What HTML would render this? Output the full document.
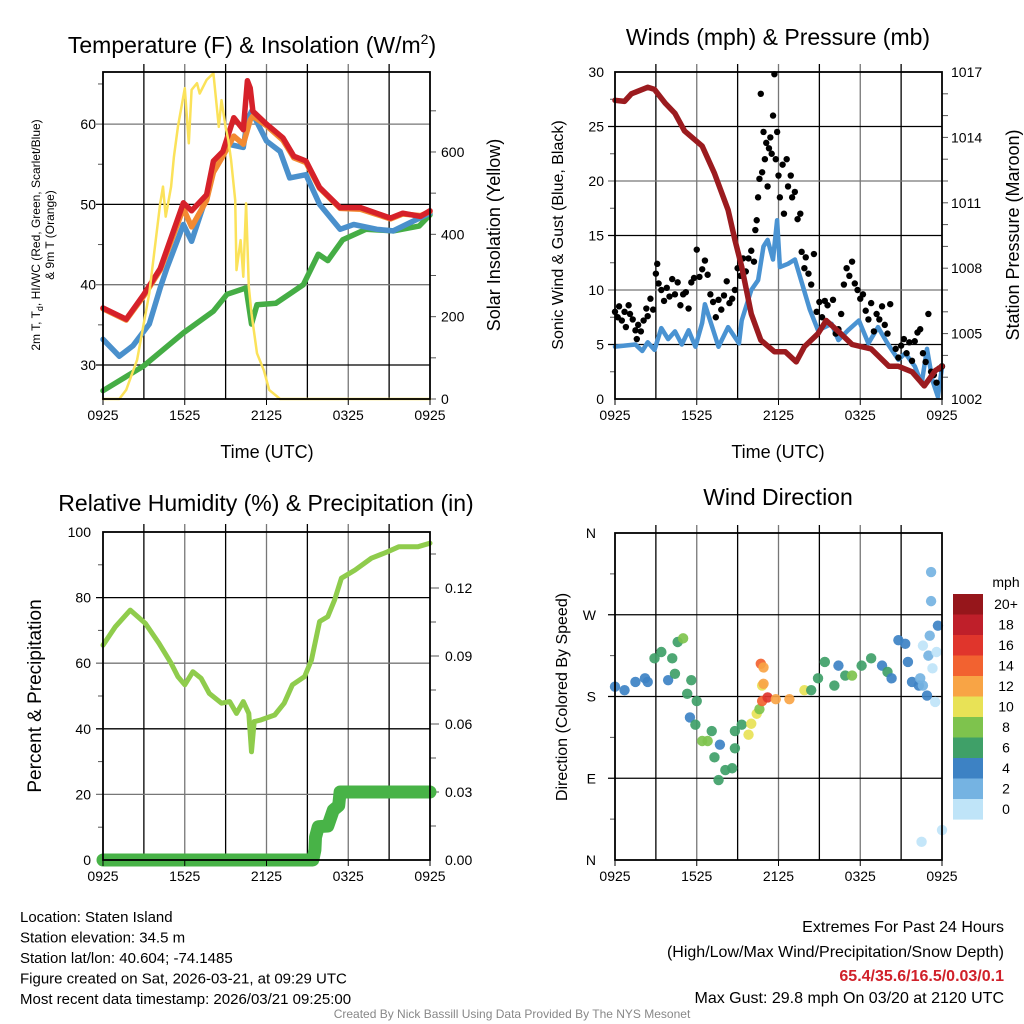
<!DOCTYPE html>
<html><head><meta charset="utf-8"><style>
body{margin:0;background:#fff;}
svg{display:block;font-family:"Liberation Sans",sans-serif;}
</style></head><body>
<svg id="c" width="1024" height="1024" viewBox="0 0 1024 1024">
<rect width="1024" height="1024" fill="#fff"/>
</svg>
<script>
// ---------- DATA ----------
const xTickLabels = ["0925","1525","2125","0325","0925"];
// Panel 1: temperature (hours since 0925)
const tempRedH = [0,1.7,3.0,4.2,5.9,6.5,7.6,8.1,8.8,9.6,10.3,10.6,10.8,11.0,12.0,13.2,14.0,14.9,15.9,17.4,18.9,21.1,22.0,23.3,24];
const tempRedV = [37.1,35.7,38.8,42,50.2,49.2,51.2,55.4,56.6,60.8,59.3,65.4,64.5,61.6,60,58.3,56,55.4,52.1,49.6,49.6,48.3,48.9,48.5,49.2];
const tempOrgH = [0,1.7,3.0,4.2,5.9,6.5,7.6,8.1,8.8,9.6,10.3,10.8,11.0,12.0,13.2,14.0,14.9,15.9,17.4,18.9,21.1,22.0,23.3,24];
const tempOrgV = [37,35.6,38.6,41.8,49.5,47.2,50.5,54,56,58.5,57.5,60.5,61,59.8,58,55.8,55.2,52,49.5,49.4,48.2,48.8,48.6,49.1];
const tempBluH = [0,1.2,2.2,3.4,4.2,4.7,5.9,6.5,7.4,8.2,9.2,10.3,10.6,10.9,12.0,13.0,13.7,14.9,15.9,17.4,18.4,20.1,21.3,22.5,24];
const tempBluV = [33.2,31.1,32.4,35.1,39.6,42.1,47.5,45.4,50,54.6,57.5,57.1,60.5,61.6,57.9,56.6,53.3,53.7,50,46.9,47.5,46.9,46.7,47.7,48.9];
const dewH = [0,3.0,5.9,8.1,9.1,10.5,10.9,11.3,12.7,14.7,15.8,16.5,17.6,19.3,21.3,23.2,24];
const dewV = [26.8,29.9,34,36.7,38.8,39.6,35.1,37.5,37.7,40,43.8,43,45.6,46.9,46.7,47.3,48.7];
const solarH = [0,1.2,1.7,2.5,3.4,4.2,4.4,4.6,5.0,5.2,5.5,6.0,6.3,6.5,6.9,7.1,7.6,8.1,8.5,8.7,9.0,9.2,9.4,9.7,9.8,10.1,10.3,10.5,10.7,10.9,11.3,11.8,12.2,13.0,13.7,24];
const solarV = [0,0,22,95,257,475,516,443,516,588,661,755,621,751,767,742,775,791,661,726,661,629,580,483,313,386,297,475,273,208,111,70,22,0,0,0];
// Panel 2: winds & pressure
const presH = [0,0.7,1.2,2.4,2.9,3.7,4.4,5.1,6.4,7.3,8.3,8.8,9.3,10.0,10.7,11.7,12.5,13.3,13.9,14.9,15.5,16.4,17.4,18.8,20.1,20.8,21.8,22.7,23.5,24];
const presV = [1015.7,1015.65,1016.0,1016.3,1016.2,1015.56,1015.1,1014.3,1013.6,1012.35,1010.67,1009.3,1008.07,1005.9,1004.7,1004.17,1004.17,1003.7,1004.4,1005.0,1005.6,1005.1,1004.5,1004.3,1003.5,1003.5,1003.25,1002.6,1003.3,1003.5];
const windH = [0,0.7,1.5,2.0,2.4,2.9,3.4,3.9,4.4,4.9,5.4,5.9,6.4,6.6,7.6,8.3,9.1,9.3,10.0,10.5,10.9,11.2,11.6,11.9,12.1,12.7,13.2,13.8,14.3,14.9,15.9,16.4,17.1,17.9,18.6,19.3,20.0,20.8,21.3,22.0,22.5,22.9,23.3,23.7,24];
const windV = [4.8,4.9,5.0,4.4,5.2,4.5,6.5,5.5,6.2,5.0,6.3,4.8,7.0,8.7,4.8,6.6,5.1,7.2,10,10.9,14,14.6,12.8,16.4,12.1,12.4,12.8,10.3,8.2,6.3,6.9,5.4,6.3,7.2,5.1,6.6,5.1,3.6,4.2,3.0,1.4,4.6,1.7,0.2,2.9];
const gustH = [0.0,0.2,0.3,0.5,0.7,0.8,1.0,1.1,1.3,1.5,1.6,1.7,1.9,2.1,2.3,2.4,2.6,2.8,3.0,3.1,3.2,3.4,3.6,3.8,4.0,4.2,4.4,4.6,4.8,5.0,5.2,5.4,5.6,5.8,6.0,6.2,6.4,6.6,6.8,7.0,7.2,7.4,7.6,7.8,8.0,8.2,8.4,8.6,8.8,9.0,9.2,9.4,9.6,9.8,10.0,10.2,10.3,10.4,10.5,10.6,10.7,10.8,10.9,11.0,11.1,11.2,11.3,11.4,11.5,11.6,11.7,11.8,11.9,12.0,12.1,12.3,12.4,12.6,12.7,12.9,13.0,13.2,13.4,13.6,13.7,13.9,14.0,14.2,14.4,14.6,14.8,15.0,15.2,15.4,15.6,16.0,16.2,16.4,16.6,16.8,17.0,17.2,17.4,17.6,17.8,18.0,18.2,18.4,18.6,18.8,19.0,19.2,19.4,19.6,19.8,20.0,20.2,20.6,20.8,21.0,21.2,21.4,21.6,21.8,22.0,22.2,22.4,22.6,22.8,23.0,23.2,23.4,23.6,23.8,24.0];
const gustV = [8,7.5,8.5,7.2,8.0,6.6,8.6,7.8,7.3,6.3,5.5,6.8,6.2,7.2,8.3,7.6,9.2,8.2,11.5,12.4,10.6,10.0,9.0,10.2,9.4,11.0,9.6,10.7,8.6,9.6,9.8,8.3,10.7,11.1,13.7,11.2,11.9,12.7,11.4,9.6,8.9,7.5,9.1,8.2,9.5,10.8,8.8,9.2,10.0,12.0,11.3,12.9,11.7,12.9,13.6,12.6,15.5,16.4,18.5,20.2,28.0,20.8,24.5,22.0,23.5,19.5,23.0,24.0,22.5,26.0,29.8,22.0,24.5,20.5,18.5,21.5,17.0,22.0,19.5,20.5,18.5,19.0,16.5,17.0,13.5,12.0,13.0,11.5,10.5,13.3,8.0,8.9,7.5,9.0,8.6,9.1,6.0,6.4,7.8,10.5,12.0,11.3,12.6,10.6,10.0,9.2,9.6,8.1,7.3,8.8,6.2,7.8,7.3,8.5,6.8,6.0,8.7,4.6,3.8,4.9,5.5,4.2,5.2,3.5,5.3,6.1,6.4,4.2,3.4,7.8,2.5,2.2,1.5,2.8,3.0];
// Panel 3: RH & precip
const rhH = [0,0.9,2.0,3.1,4.1,5.0,5.5,6.0,6.6,7.2,7.8,8.7,9.3,9.8,10.3,10.7,10.9,11.1,11.6,12.6,13.3,13.9,14.8,15.3,15.9,16.5,17.0,17.5,18.5,19.7,20.9,21.7,23.1,24];
const rhV = [65.5,71.1,76.2,72.2,66.1,60,55.9,53.4,57.4,55.4,50.8,47.8,48.3,44.7,48.3,44.7,33,42.2,42.7,44.2,47.8,53.4,55.9,61,72.7,74.2,79.3,85.9,88.4,92,94,95.5,95.5,96.6];
const precipH = [0,15.4,15.55,15.6,15.8,16.5,16.9,17.3,17.4,24];
const precipV = [0,0,0.0044,0.010,0.0147,0.015,0.022,0.024,0.030,0.030];
// Panel 4: wind direction
const dirH = [0,0.7,1.5,2.2,2.4,2.9,3.4,4.2,4.6,5.0,3.9,4.4,5.3,5.6,5.5,6.0,5.9,6.4,6.8,7.1,7.7,7.3,7.6,8.1,8.6,8.8,8.8,9.3,9.8,10.0,10.4,10.6,10.8,10.9,10.7,10.9,10.8,11.2,11.8,12.8,13.9,14.4,14.9,15.4,16.1,16.4,16.9,17.4,18.1,18.8,19.6,20.0,20.3,20.8,21.3,21.5,21.8,22.3,22.6,22.9,23.0,23.1,23.2,23.2,22.6,23.3,23.5,23.6,23.7,24.0,22.5,22.4];
const dirV = [190.8,187,196,200,196,222,229,222,240,244,198,205,183,198,157,175,149,131,131,142,127,113,88,99,101,123,142,149,138,150,161,166,192,194,216,212,175,179,177,177,187,187,200,218,192,214,203,203,214,222,214,207,200,242,238,218,196,192,192,181,225,247,317,285,236,211,174,229,258,33,20,200];
const dirS = [5,5,5,5,5,7,7,7,7,9,5,7,7,7,5,7,7,9,9,7,5,7,7,7,7,7,7,7,11,11,11,9,11,13,15,13,15,17,13,13,11,7,7,7,7,5,7,9,7,7,5,7,5,5,5,5,5,5,3,5,3,3,3,3,1,1,1,1,5,1,1,3];
const cbLabels = ["20+","18","16","14","12","10","8","6","4","2","0"];
const cbColors = ["#96161b","#bf1f2a","#e0352c","#f26230","#f8a445","#e8e256","#7ec34d","#3fa068","#3d82c4","#75b3e2","#bfe4f8"];

// ---------- RENDER ----------
const NS="http://www.w3.org/2000/svg", svg=document.getElementById('c');
function el(tag,attrs,parent){const e=document.createElementNS(NS,tag);for(const k in attrs)e.setAttribute(k,attrs[k]);(parent||svg).appendChild(e);return e;}
function txt(s,x,y,size,anchor,parent,extra){const t=el('text',Object.assign({x:x,y:y,'font-size':size,'text-anchor':anchor||'middle',fill:'#000'},extra||{}),parent);t.textContent=s;return t;}
function panel(name,x0,y0,x1,y1){
  const g=el('g',{});
  
  
  const P={g,x0,y0,x1,y1,xs:h=>x0+(x1-x0)*h/24};
  for(let i=1;i<8;i++){const x=P.xs(i*3);el('line',{x1:x,y1:y0-8,x2:x,y2:y1,stroke:i%2?'#000':'#777','stroke-width':1.3},g);}
  return P;
}
function frame(P){const g=P.g;el('rect',{x:P.x0,y:P.y0,width:P.x1-P.x0,height:P.y1-P.y0,fill:'none',stroke:'#000','stroke-width':1.8},g);
  xTickLabels.forEach((l,i)=>{const x=P.xs(i*6);el('line',{x1:x,y1:P.y1,x2:x,y2:P.y1+6,stroke:'#000'},g);const t=txt(l,x,P.y1+21,14,'middle',g);
  
  });}
function hgrid(P,ys,color){ys.forEach((y,i)=>el('line',{x1:P.x0-7,y1:y,x2:P.x1,y2:y,stroke:color?color(i):'#000','stroke-width':1.3},P.g));}
function rticks(P,ys,len){ys.forEach(y=>el('line',{x1:P.x1,y1:y,x2:P.x1+len,y2:y,stroke:'#555','stroke-width':1},P.g));}
function lticks(P,ys){ys.forEach(y=>el('line',{x1:P.x0-5,y1:y,x2:P.x0,y2:y,stroke:'#555','stroke-width':1},P.g));}
function path(P,H,V,ys,color,w,name){let d='';H.forEach((h,i)=>{d+=(i?'L':'M')+P.xs(h).toFixed(1)+','+ys(V[i]).toFixed(1);});
  const p=el('path',{d:d,fill:'none',stroke:color,'stroke-width':w,'stroke-linejoin':'round','stroke-linecap':'round'},P.g);
  
  return p;}

// Panel 1
{
const P=panel('temperature-panel',103,72,430,399);
const yT=v=>365-(v-30)*8.03, yS=v=>399-v*0.4117;
hgrid(P,[30,40,50,60].map(yT),i=>i%2?'#777':'#000');
lticks(P,[35,45,55,65].map(yT));
rticks(P,[0,100,200,300,400,500,600,700].map(yS),6);
[30,40,50,60].forEach(v=>{const t=txt(String(v),96,yT(v)+5,14,'end',P.g);});
[0,200,400,600].forEach(v=>{const t=txt(String(v),441,yS(v)+5,14,'start',P.g);});
path(P,dewH,dewV,yT,'#45ad45',5.5,'dewpoint-line');
path(P,tempBluH,tempBluV,yT,'#4a90cc',5.5,'wind-chill-line');
path(P,tempOrgH,tempOrgV,yT,'#f28a32',5.5,'9m-temp-line');
path(P,tempRedH,tempRedV,yT,'#d6212a',5.5,'2m-temp-line');
path(P,solarH,solarV,yS,'#fbe25a',2.5,'solar-insolation-line');
frame(P);
const t1=txt('Temperature (F) & Insolation (W/m',252,53,23,'middle');
const ts=el('tspan',{dy:-9,'font-size':14});ts.textContent='2';t1.appendChild(ts);const ts2=el('tspan',{dy:9});ts2.textContent=')';t1.appendChild(ts2);
const xa=txt('Time (UTC)',267,458,18);
const l1=txt('2m T, T',0,0,12,'middle',null,{transform:'translate(40,235) rotate(-90)'});
const sb=el('tspan',{dy:3,'font-size':9});sb.textContent='d';l1.appendChild(sb);const sb2=el('tspan',{dy:-3});sb2.textContent=', HI/WC (Red, Green, Scarlet/Blue)';l1.appendChild(sb2);
const l2=txt('& 9m T (Orange)',0,0,12,'middle',null,{transform:'translate(54,235) rotate(-90)'});
const r1=txt('Solar Insolation (Yellow)',0,0,18,'middle',null,{transform:'translate(500,235) rotate(-90)'});
}
// Panel 2
{
const P=panel('winds-panel',615,72,942,399);
const yW=v=>399-v*10.9, yP=v=>399-(v-1002)*21.8;
hgrid(P,[5,10,15,20,25].map(yW),i=>i%2?'#777':'#000');
lticks(P,[2.5,7.5,12.5,17.5,22.5,27.5].map(yW));
rticks(P,[1003,1004,1005,1006,1007,1008,1009,1010,1011,1012,1013,1014,1015,1016].map(yP),6);
[0,5,10,15,20,25,30].forEach(v=>{const t=txt(String(v),604,yW(v)+5,14,'end',P.g);});
[1002,1005,1008,1011,1014,1017].forEach(v=>{const t=txt(String(v),951,yP(v)+5,14,'start',P.g);});
path(P,windH,windV,yW,'#4a93d2',4.5,'sonic-wind-line');
gustH.forEach((h,i)=>{const c=el('circle',{cx:P.xs(h),cy:yW(gustV[i]),r:3.2,fill:'#000'},P.g);

});
path(P,presH,presV,yP,'#9b1b1f',5.5,'pressure-line');
frame(P);
const t=txt('Winds (mph) & Pressure (mb)',778,45,23);
const xa=txt('Time (UTC)',778,458,18);
const l=txt('Sonic Wind & Gust (Blue, Black)',0,0,16,'middle',null,{transform:'translate(563,235) rotate(-90)'});
const r=txt('Station Pressure (Maroon)',0,0,18,'middle',null,{transform:'translate(1019,235) rotate(-90)'});
}
// Panel 3
{
const P=panel('humidity-panel',103,532,430,860);
const yR=v=>860-v*3.28, yPr=v=>860-v/0.03*68;
hgrid(P,[20,40,60,80].map(yR),i=>i%2?'#000':'#777');
lticks(P,[10,30,50,70,90].map(yR));
rticks(P,[0.015,0.045,0.075,0.105,0.135].map(yPr),6);
rticks(P,[0.03,0.06,0.09,0.12].map(yPr),9);
[0,20,40,60,80,100].forEach(v=>{const t=txt(String(v),91,yR(v)+5,14,'end',P.g);});
["0.00","0.03","0.06","0.09","0.12"].forEach(s=>{const t=txt(s,445,yPr(parseFloat(s))+5,14,'start',P.g);});
path(P,rhH,rhV,yR,'#8fcc4c',5,'relative-humidity-line');
path(P,precipH,precipV,yPr,'#48b347',13,'precipitation-line');
frame(P);
const t=txt('Relative Humidity (%) & Precipitation (in)',266,511,23);
const l=txt('Percent & Precipitation',0,0,19,'middle',null,{transform:'translate(41,696) rotate(-90)'});
}
// Panel 4
{
const P=panel('wind-direction-panel',615,533,942,860);
const yD=v=>860-v*327/360;
hgrid(P,[90,180,270].map(yD),i=>'#000');
lticks(P,[45,135,225,315].map(yD));
["N","E","S","W","N"].forEach((s,i)=>{const t=txt(s,596,yD(i*90)+5,14,'end',P.g);});
const col=s=>cbColors[10-Math.min(10,Math.floor(s/2))];
dirH.forEach((h,i)=>{const c=el('circle',{cx:P.xs(h),cy:yD(dirV[i]),r:5.2,fill:col(dirS[i]),'fill-opacity':0.92},P.g);

});
frame(P);
const t=txt('Wind Direction',778,505,23);
const l=txt('Direction (Colored By Speed)',0,0,16,'middle',null,{transform:'translate(567,697) rotate(-90)'});
const cb=el('g',{});


cbColors.forEach((c,i)=>el('rect',{x:953,y:594+i*20.5,width:30,height:20.6,fill:c},cb));
cbLabels.forEach((s,i)=>txt(s,1006,609+i*20.5,14,'middle',cb));
txt('mph',1006,587,14,'middle',cb);
}
// footer text
{
const lines=["Location: Staten Island","Station elevation: 34.5 m","Station lat/lon: 40.604; -74.1485","Figure created on Sat, 2026-03-21, at 09:29 UTC","Most recent data timestamp: 2026/03/21 09:25:00"];
lines.forEach((s,i)=>{const t=txt(s,20,922+i*20.5,15,'start');});
const r=[["Extremes For Past 24 Hours",'#000','normal',932],["(High/Low/Max Wind/Precipitation/Snow Depth)",'#000','normal',957],["65.4/35.6/16.5/0.03/0.1",'#d0212a','bold',981],["Max Gust: 29.8 mph On 03/20 at 2120 UTC",'#000','normal',1003]];
r.forEach(a=>{const t=txt(a[0],1004,a[3],16,'end',null,{fill:a[1],'font-weight':a[2]});});
const c=txt('Created By Nick Bassill Using Data Provided By The NYS Mesonet',512,1018,12,'middle',null,{fill:'#888'});
}
</script>
</body></html>
